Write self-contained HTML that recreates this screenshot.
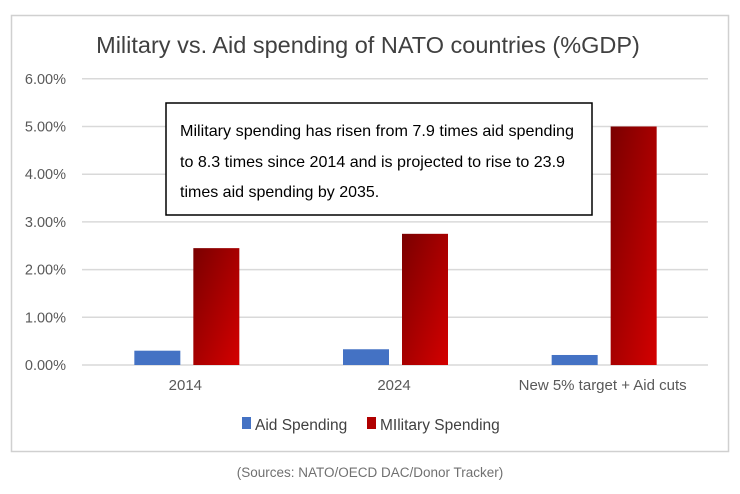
<!DOCTYPE html>
<html><head><meta charset="utf-8"><style>
body{margin:0;width:740px;height:489px;background:#fff;font-family:"Liberation Sans",sans-serif;overflow:hidden}
svg text{font-family:"Liberation Sans",sans-serif}
</style></head><body>
<svg width="740" height="489">
<defs>
<linearGradient id="rg" x1="0" y1="0" x2="1" y2="1">
<stop offset="0" stop-color="#7a0000"/><stop offset="1" stop-color="#d40000"/>
</linearGradient>
</defs>
<rect x="11.5" y="15.5" width="717" height="436" fill="#fff" stroke="#d0d0d0" stroke-width="1.5"/>
<text x="368" y="53" text-anchor="middle" font-size="23.5" fill="#404040">Military vs. Aid spending of NATO countries (%GDP)</text>
<g id="grid"></g>
<g id="bars"></g>
<g id="xl"></g>
<rect x="166" y="103" width="426" height="112" fill="#fff" stroke="#000" stroke-width="1.5"/>
<text font-size="16" fill="#000">
<tspan x="180" y="136" textLength="394" lengthAdjust="spacingAndGlyphs">Military spending has risen from 7.9 times aid spending</tspan>
<tspan x="180" y="167" textLength="385" lengthAdjust="spacingAndGlyphs">to 8.3 times since 2014 and is projected to rise to 23.9</tspan>
<tspan x="180" y="197">times aid spending by 2035.</tspan>
</text>
<g>
<rect x="242" y="417" width="9" height="12" fill="#4472c4"/>
<text x="255" y="430" font-size="15.5" fill="#404040">Aid Spending</text>
<rect x="367" y="417" width="9" height="12" fill="#b00000"/>
<text x="380" y="430" font-size="15.5" fill="#404040">MIlitary Spending</text>
</g>
<text x="370" y="477" text-anchor="middle" font-size="13.5" fill="#707070">(Sources: NATO/OECD DAC/Donor Tracker)</text>
</svg>
<script>
const categories=["2014","2024","New 5% target + Aid cuts"];
const aidValues=[0.30,0.33,0.21];
const militaryValues=[2.45,2.75,5.0];
const tickLabels=["0.00%","1.00%","2.00%","3.00%","4.00%","5.00%","6.00%"];
const tickValues=[0,1,2,3,4,5,6];
const NS="http://www.w3.org/2000/svg";
const x0=82,x1=708,y0=365,ppu=47.7;
const y=v=>y0-v*ppu;
const bw=(x1-x0)/categories.length;
const cx=i=>x0+bw*(i+0.5);
function mk(t,a,p){const e=document.createElementNS(NS,t);for(const k in a)e.setAttribute(k,a[k]);p.appendChild(e);return e;}
const g=document.getElementById('grid');
tickValues.forEach((v,i)=>{
 const l=mk('line',{x1:x0,x2:x1,y1:y(v),y2:y(v),stroke:'#d9d9d9','stroke-width':1.5},g);
 
 
 const t=mk('text',{x:66,y:y(v)+5,'text-anchor':'end','font-size':14.5,fill:'#595959'},g);
 t.textContent=tickLabels[i];
 
 
});
const b=document.getElementById('bars');
categories.forEach((c,i)=>{
 const a=mk('rect',{x:cx(i)-52,y:y(aidValues[i]),width:46,height:aidValues[i]*ppu,fill:'#4472c4'},b);
 
 
 const m=mk('rect',{x:cx(i)+7,y:y(militaryValues[i]),width:46,height:militaryValues[i]*ppu,fill:'url(#rg)'},b);
 
 
 const t=mk('text',{x:cx(i)-1,y:390,'text-anchor':'middle','font-size':15,fill:'#595959'},document.getElementById('xl'));
 t.textContent=c;
 
 
});
</script>
</body></html>
